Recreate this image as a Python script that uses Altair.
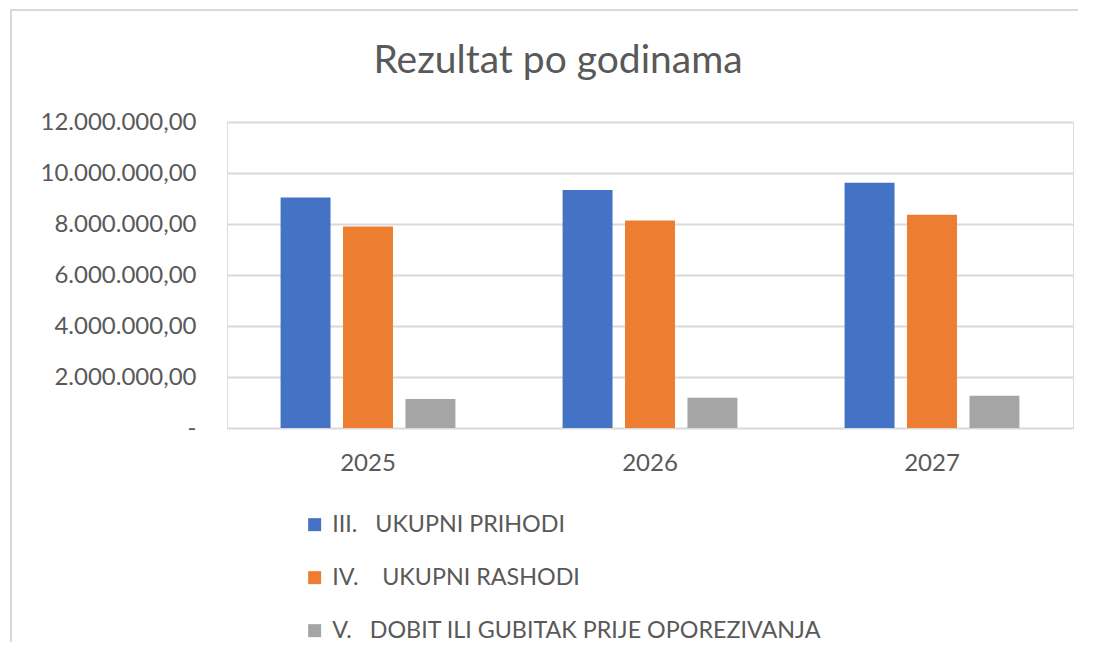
import altair as alt
import pandas as pd

years = ["2025", "2026", "2027"]
series = [
    "III.\u00a0\u00a0\u00a0UKUPNI PRIHODI",
    "IV.\u00a0\u00a0\u00a0\u00a0UKUPNI RASHODI",
    "V.\u00a0\u00a0\u00a0DOBIT ILI GUBITAK PRIJE OPOREZIVANJA",
]
prihodi = [9040000, 9330000, 9620000]
rashodi = [7900000, 8140000, 8360000]
dobit = [1140000, 1190000, 1260000]
colors = ["#4472C4", "#ED7D31", "#A5A5A5"]

rows = []
for i, y in enumerate(years):
    for s, vals in zip(series, [prihodi, rashodi, dobit]):
        rows.append({"year": y, "series": s, "value": vals[i]})
df = pd.DataFrame(rows)

FONT = "Lato"
TXT = "#595959"
GRID = "#D9D9D9"

label_expr = (
    "datum.value == 0 ? '-\u2007' : "
    "replace(replace(replace(format(datum.value, ',.2f'), regexp(',', 'g'), '#'),"
    " regexp('\\\\.', 'g'), ','), regexp('#', 'g'), '.')"
)

bars = alt.Chart(df).mark_bar().encode(
    x=alt.X("year:N", sort=years, title=None,
            scale=alt.Scale(paddingInner=0.38, paddingOuter=0.19),
            axis=alt.Axis(labelAngle=0, ticks=False, domain=False,
                          labelFont=FONT, labelFontSize=24, labelColor=TXT,
                          labelPadding=23, grid=False)),
    xOffset=alt.XOffset("series:N", sort=series,
                        scale=alt.Scale(paddingInner=0.2, paddingOuter=0)),
    y=alt.Y("value:Q", title=None,
            scale=alt.Scale(domain=[0, 12000000], nice=False),
            axis=alt.Axis(values=[0, 2000000, 4000000, 6000000, 8000000, 10000000, 12000000],
                          labelExpr=label_expr, ticks=False, domain=False,
                          grid=True, gridColor=GRID, gridWidth=2,
                          labelFont=FONT, labelFontSize=24, labelColor=TXT,
                          labelPadding=31)),
    color=alt.Color("series:N", sort=series,
                    scale=alt.Scale(domain=series, range=colors),
                    legend=alt.Legend(title=None, orient="none",
                                      legendX=76, legendY=391,
                                      direction="vertical",
                                      symbolType="square", symbolSize=169,
                                      symbolStrokeWidth=0,
                                      labelFont=FONT, labelFontSize=23.3,
                                      labelColor=TXT, rowPadding=29,
                                      labelOffset=6, padding=0,
                                      labelLimit=800)),
)

frame = pd.DataFrame({"k": [0]})
top_line = alt.Chart(frame).mark_rule(color=GRID, strokeWidth=2).encode(
    x=alt.value(-217), x2=alt.value(851), y=alt.value(-112))
left_line = alt.Chart(frame).mark_rule(color=GRID, strokeWidth=2).encode(
    x=alt.value(-216), y=alt.value(-113), y2=alt.value(520))

chart = alt.layer(bars, top_line, left_line).properties(
    width=846, height=306,
    title=alt.Title("Rezultat po godinama", font=FONT, fontSize=39,
                    fontWeight="normal", color=TXT, anchor="middle",
                    dx=-92, offset=-73),
    autosize=alt.AutoSizeParams(type="none"),
    padding={"left": 219, "top": 114, "right": 5, "bottom": 214},
).configure_view(stroke=None).configure(background="white")

chart.save("out.html", embed_options={"renderer": "svg", "actions": False})
